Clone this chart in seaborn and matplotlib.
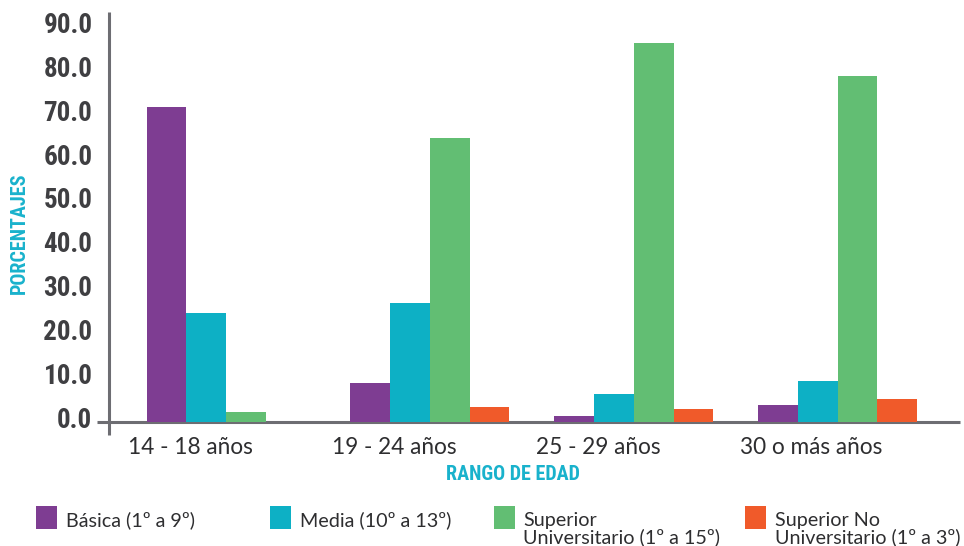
import matplotlib
matplotlib.use("Agg")
import matplotlib.pyplot as plt
import matplotlib.transforms as mtransforms
from matplotlib.patches import Rectangle
from matplotlib import font_manager as fm
import seaborn as sns
import pandas as pd

categories = ["14 - 18 años", "19 - 24 años", "25 - 29 años", "30 o más años"]
series_names = ["Básica (1º a 9º)", "Media (10º a 13º)",
                "Superior\nUniversitario (1º a 15º)", "Superior No\nUniversitario (1º a 3º)"]
basica = [71.9, 8.9, 1.4, 3.9]
media = [24.9, 27.2, 6.4, 9.4]
sup_univ = [2.3, 64.8, 86.5, 79.0]
sup_no_univ = [0.0, 3.4, 3.0, 5.3]
colors = ["#7e3d92", "#0db0c5", "#62be73", "#f05a2a"]
yticks = [0, 10, 20, 30, 40, 50, 60, 70, 80, 90]

# pick a condensed bold font if one is installed
def pick_condensed():
    prio = ["Liberation Sans Narrow", "Roboto Condensed", "Open Sans Condensed",
            "Noto Sans Condensed", "DejaVu Sans Condensed", "Arial Narrow"]
    fl = fm.fontManager.ttflist
    def isbold(f):
        return f.weight in (600, 700, 800, "bold", "semibold", "demibold") or "Bold" in f.fname
    for p in prio:
        for f in fl:
            if f.name == p and isbold(f):
                return fm.FontProperties(fname=f.fname), True
    for f in fl:
        if f.stretch in ("condensed", "semi-condensed", "extra-condensed", "ultra-condensed") and isbold(f):
            return fm.FontProperties(fname=f.fname), True
    for f in fl:
        if ("Condensed" in f.fname or "Narrow" in f.fname) and isbold(f):
            return fm.FontProperties(fname=f.fname), True
    return fm.FontProperties(family="DejaVu Sans", weight="bold"), False

cond_fp, narrow = pick_condensed()

rows = []
for name, vals in zip(series_names, [basica, media, sup_univ, sup_no_univ]):
    for c, v in zip(categories, vals):
        rows.append({"cat": c, "serie": name, "val": v})
df = pd.DataFrame(rows)

sns.set_theme(style="white")
fig = plt.figure(figsize=(9.64, 5.46), dpi=100)
ax = fig.add_axes([109 / 964, 1 - 422 / 546, 851 / 964, 410 / 546])

sns.barplot(data=df, x="cat", y="val", hue="serie", hue_order=series_names,
            order=categories, palette=colors, width=0.78, errorbar=None,
            saturation=1, ax=ax, legend=False, linewidth=0, edgecolor="none",
            zorder=3)

ax.set_xlim(-0.574, 3.6)
ax.set_ylim(0, 93.6)
for s in ax.spines.values():
    s.set_visible(False)
axis_col = "#6d6d72"
ax.plot([-12 / 851, 1], [0, 0], transform=ax.transAxes, color=axis_col,
        lw=2.2, clip_on=False, zorder=2, solid_capstyle="butt")
ax.plot([0, 0], [-13 / 410, 1], transform=ax.transAxes, color=axis_col,
        lw=2.2, clip_on=False, zorder=2, solid_capstyle="butt")

tick_size = 19.5 if narrow else 15.5
ax.set_yticks(yticks)
ax.set_yticklabels([f"{v:.1f}" for v in yticks])
ax.tick_params(axis="y", length=0, pad=12, colors="#3f3f42")
for lab in ax.get_yticklabels():
    lab.set_fontproperties(cond_fp)
    lab.set_fontsize(tick_size)
    lab.set_transform(lab.get_transform() +
                      mtransforms.ScaledTranslation(0, 0.05, fig.dpi_scale_trans))

ax.tick_params(axis="x", length=0, pad=11, colors="#2e2e30")
for lab in ax.get_xticklabels():
    lab.set_fontfamily(["Lato", "DejaVu Sans"])
    lab.set_fontsize(16.3)
    lab.set_ha("left")
    lab.set_transform(lab.get_transform() +
                      mtransforms.ScaledTranslation(-0.98, 0, fig.dpi_scale_trans))
ax.set_xlabel("")
ax.set_ylabel("")

title_col = "#19b2cc"
fig.text(513 / 964, 1 - 474 / 546, "RANGO DE EDAD", ha="center", va="center",
         fontproperties=cond_fp, fontsize=14.5 if narrow else 12, color=title_col)
fig.text(19 / 964, 1 - 233 / 546, "PORCENTAJES", ha="center", va="center",
         rotation=90, fontproperties=cond_fp, fontsize=14.5 if narrow else 12,
         color=title_col)

# legend
sq_x = [36, 270, 494, 745]
tx_x = [66, 300, 523, 775]
for name, col, sx, tx in zip(series_names, colors, sq_x, tx_x):
    fig.patches.append(Rectangle((sx / 964, 1 - 529 / 546), 21 / 964, 23 / 546,
                                 transform=fig.transFigure, facecolor=col,
                                 edgecolor="none"))
    for i, line in enumerate(name.split("\n")):
        fig.text(tx / 964, 1 - (526 + 17 * i) / 546, line, ha="left",
                 va="baseline", fontsize=14.2, color="#2e2e30",
                 family=["Lato", "DejaVu Sans"])

fig.savefig("out.png", dpi=100, facecolor="white")
